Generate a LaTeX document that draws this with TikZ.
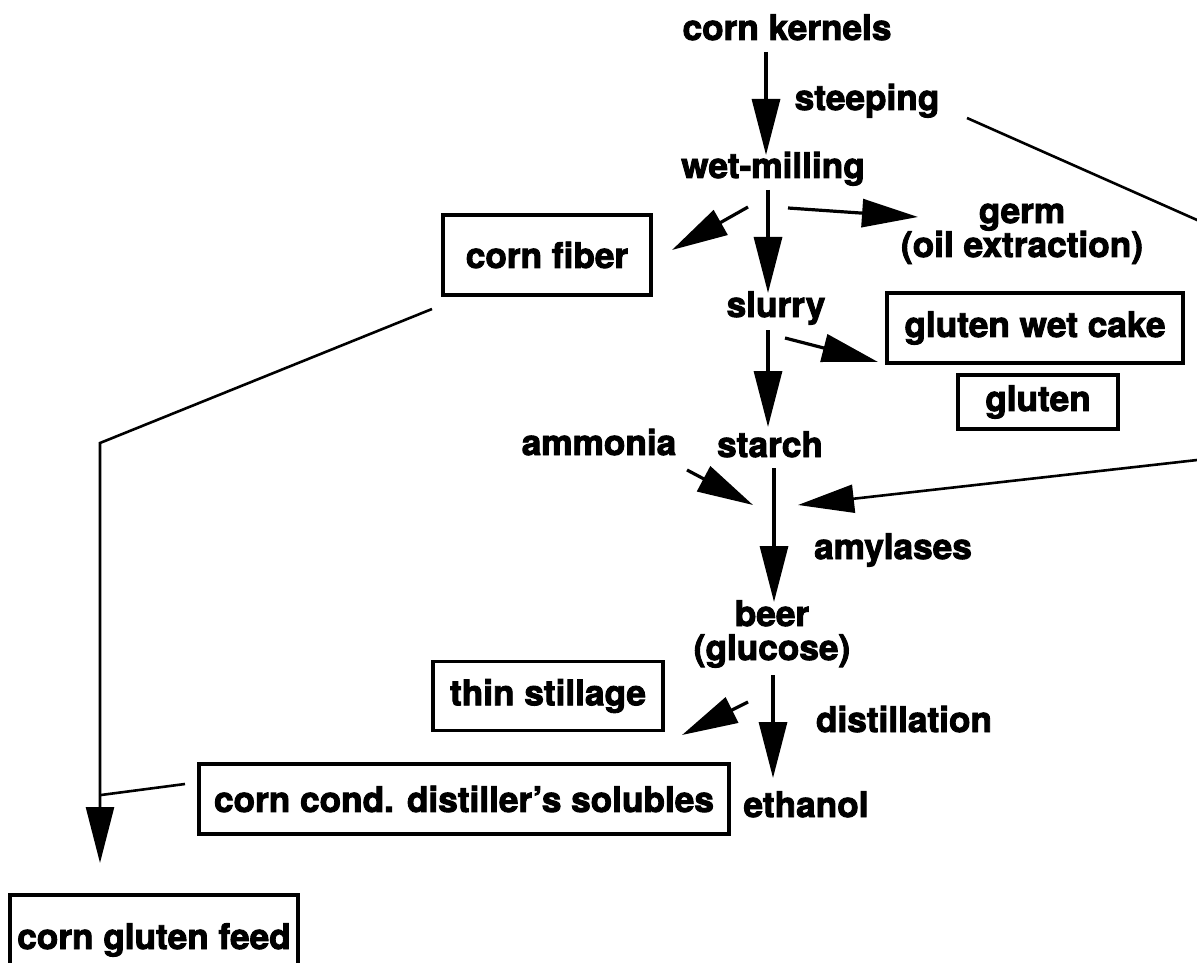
\documentclass[tikz,border=0pt]{standalone}
\usepackage{fontspec}
\setmainfont{TeX Gyre Heros}[BoldFeatures={FakeBold=2.6}]
\usetikzlibrary{arrows.meta}

\tikzset{
  lbl/.style={font=\bfseries\fontsize{17.6}{17}\selectfont, inner sep=0pt, anchor=base},
  box/.style={font=\bfseries\fontsize{17.6}{17}\selectfont, draw, line width=1.6pt, inner sep=0pt},
  arr/.style={line width=1.6pt, -{Triangle[length=28pt,width=14pt]}},
  ln/.style={line width=1.3pt},
}

\begin{document}
\begin{tikzpicture}[x=0.5pt,y=-0.5pt]
    \useasboundingbox (0,0) rectangle (1197,962);
    \clip (0,0) rectangle (1197,962);

    % main line
    \node (ck) [lbl] at (787,40) {corn kernels};
    \node (steep) [lbl] at (867,110) {steeping};
    \node (wm) [lbl] at (773,178) {wet-milling};
    \node (germ) [lbl, align=center] at (1022,257) {germ\\(oil extraction)};
    \node (slurry) [lbl] at (776,317) {slurry};
    \node (ammonia) [lbl] at (599,455) {ammonia};
    \node (starch) [lbl] at (770,457) {starch};
    \node (amyl) [lbl] at (893,559) {amylases};
    \node (beer) [lbl, align=center] at (772,660) {beer\\(glucose)};
    \node (dist) [lbl] at (904,732) {distillation};
    \node (eth) [lbl] at (806,817) {ethanol};

    % products
    \node (fiber) [box, minimum width=104pt, minimum height=40pt] at (547,255) {corn fiber};
    \node (gwc) [box, minimum width=148pt, minimum height=35pt] at (1035,328) {gluten wet cake};
    \node (gluten) [box, minimum width=80pt, minimum height=27pt] at (1038,402) {gluten};
    \node (thin) [box, minimum width=115pt, minimum height=34.5pt] at (548,696) {thin stillage};
    \node (cond) [box, minimum width=265pt, minimum height=35pt] at (464,799) {corn cond. distiller’s solubles};
    \node (cgf) [box, minimum width=144pt, minimum height=45pt] at (154,940) {corn gluten feed};

    % arrow ends
    \coordinate (ck-out) at (766,52);
    \coordinate (wm-in) at (766,155);
    \coordinate (wm-out) at (768,190);
    \coordinate (sl-in) at (768,293);
    \coordinate (wm-l) at (748,207);
    \coordinate (fiber-in) at (672,250);
    \coordinate (wm-r) at (788,208);
    \coordinate (germ-in) at (918,217);
    \coordinate (sl-out) at (768,330);
    \coordinate (st-in) at (768,427);
    \coordinate (sl-r) at (785,338);
    \coordinate (gwc-in) at (878,362);
    \coordinate (am-out) at (687,470);
    \coordinate (am-in) at (753,505);
    \coordinate (st-out) at (774,468);
    \coordinate (beer-in) at (774,602);
    \coordinate (steep-out) at (967,118);
    \coordinate (side-top) at (1230,234.6);
    \coordinate (side-bot) at (1230,456.3);
    \coordinate (mix-in) at (798,505);
    \coordinate (beer-out) at (773,675);
    \coordinate (eth-in) at (773,778);
    \coordinate (beer-l) at (748,702);
    \coordinate (cond-in) at (682,735);
    \coordinate (fiber-out) at (432,309);
    \coordinate (bend) at (100,443);
    \coordinate (cgf-in) at (100,863);
    \coordinate (cond-out) at (185,784);
    \coordinate (join) at (101,795);

    \draw [arr] (ck-out) -- (wm-in);
    \draw [arr] (wm-out) -- (sl-in);
    \draw [arr] (wm-l) -- (fiber-in);
    \draw [arr] (wm-r) -- (germ-in);
    \draw [arr] (sl-out) -- (st-in);
    \draw [arr] (sl-r) -- (gwc-in);
    \draw [arr] (am-out) -- (am-in);
    \draw [arr] (st-out) -- (beer-in);
    \draw [arr, line width=1.3pt] (steep-out) -- (side-top) -- (side-bot) -- (mix-in);
    \draw [arr] (beer-out) -- (eth-in);
    \draw [arr] (beer-l) -- (cond-in);
    \draw [arr, line width=1.3pt] (fiber-out) -- (bend) -- (cgf-in);
    \draw [ln] (cond-out) -- (join);
\end{tikzpicture}
\end{document}
